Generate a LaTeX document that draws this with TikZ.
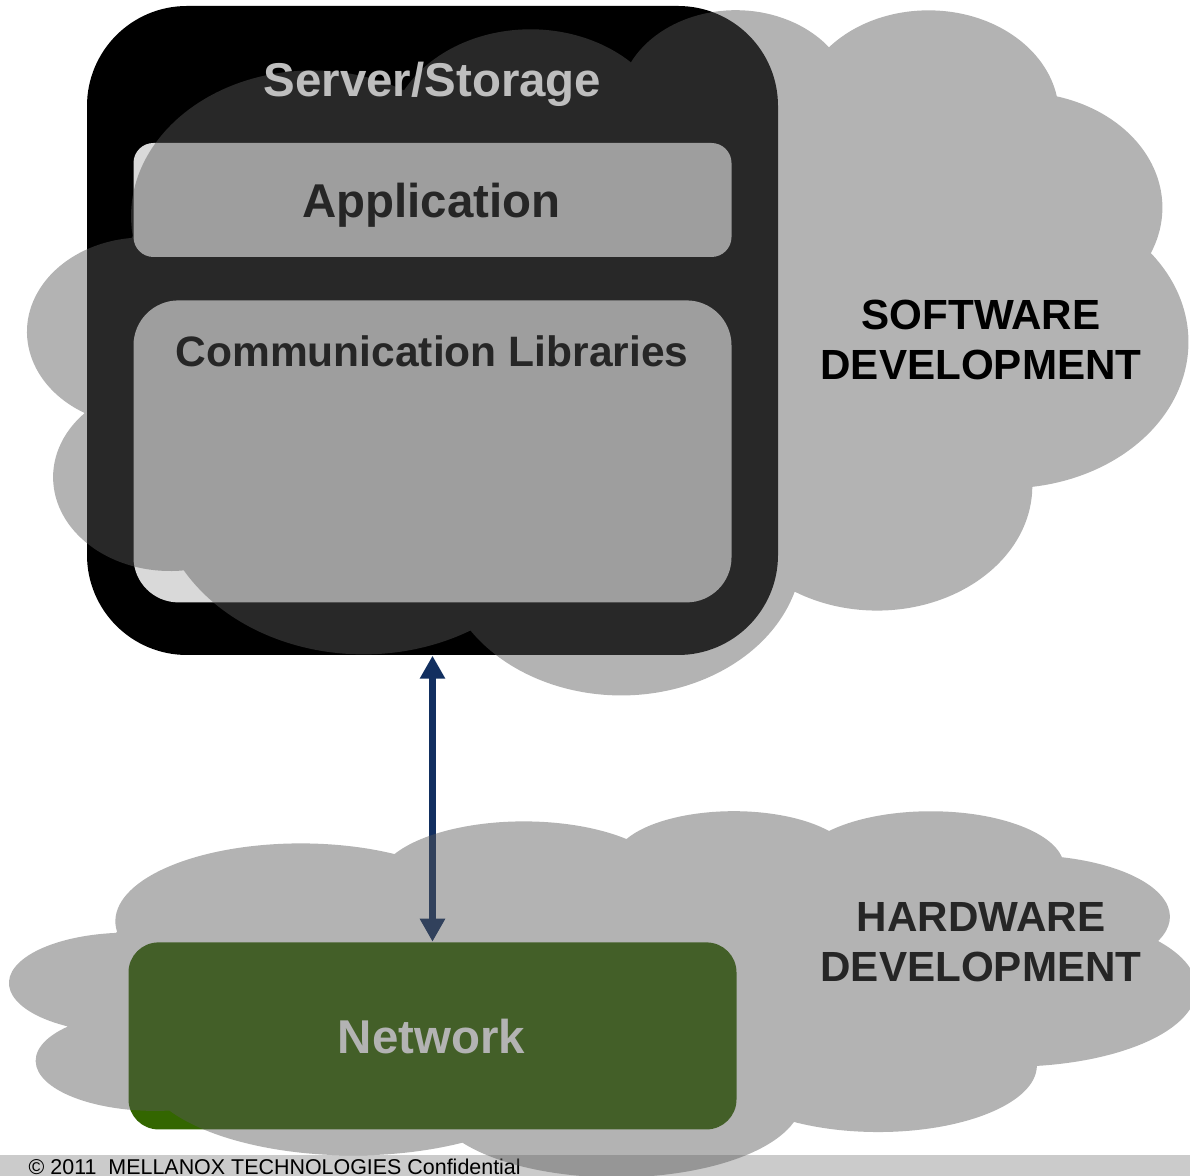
\documentclass[tikz,border=0pt]{standalone}
\usepackage{fontspec}
\setmainfont{Liberation Sans}
\usepackage{tikz}
\usetikzlibrary{arrows.meta, positioning}

\definecolor{cloudgray}{RGB}{88,88,88}
\definecolor{appgray}{RGB}{217,217,217}
\definecolor{netgreen}{RGB}{51,102,0}
\definecolor{linknavy}{RGB}{18,47,96}
\definecolor{footgray}{RGB}{203,203,203}
\definecolor{titlegray}{RGB}{190,190,190}
\definecolor{labeldark}{RGB}{38,38,38}
\definecolor{netlabel}{RGB}{179,179,179}

\tikzset{
    serverbox/.style={
        rectangle,
        fill=black,
        rounded corners=1cm,
        minimum width=6.91cm,
        minimum height=6.49cm,
        inner sep=0pt
    },
    layerbox/.style={
        rectangle,
        fill=appgray,
        minimum width=5.98cm,
        inner sep=0pt
    },
    netbox/.style={
        rectangle,
        fill=netgreen,
        rounded corners=0.3cm,
        minimum width=6.08cm,
        minimum height=1.87cm,
        inner sep=0pt
    },
    footbar/.style={
        rectangle,
        fill=footgray,
        minimum width=11.9cm,
        minimum height=0.21cm,
        inner sep=0pt
    },
    link/.style={
        draw=linknavy,
        line width=0.07cm,
        {Triangle[width=0.24cm,length=0.23cm]}-{Triangle[width=0.24cm,length=0.23cm]}
    },
    cloudfill/.style={
        fill=cloudgray,
        fill opacity=0.455
    },
    boxtitle/.style={
        font=\fontsize{13.5}{16}\selectfont\bfseries,
        anchor=base,
        inner sep=0pt
    },
    zonelabel/.style={
        font=\fontsize{12}{14.2}\selectfont\bfseries,
        align=center,
        inner sep=0pt
    },
    pics/pptcloud/.style={
        code={
            \path[cloudfill] (9.028,33.264)
                arc[x radius=15.632, y radius=21.273, start angle=-187.75, end angle=-59.64]
                arc[x radius=12.345, y radius=16.822, start angle=-152.02, end angle=-45.47]
                arc[x radius=10.104, y radius=13.762, start angle=-153.49, end angle=-37.32]
                arc[x radius=11.243, y radius=15.266, start angle=-139.72, end angle=-10.21]
                arc[x radius=12.345, y radius=16.836, start angle=-74.77, end angle=23.21]
                arc[x radius=15.683, y radius=21.343, start angle=-37.52, end angle=81.86]
                arc[x radius=13.391, y radius=18.211, start angle=0.46, end angle=121.98]
                arc[x radius=15.630, y radius=21.331, start angle=16.85, end angle=146.25]
                arc[x radius=17.870, y radius=24.405, start angle=58.98, end angle=150.17]
                arc[x radius=10.093, y radius=13.699, start angle=-276.70, end angle=-136.89]
                arc[x radius=10.058, y radius=13.762, start angle=-239.64, end angle=-95.89]
                -- cycle;
        }
    }
}

\begin{document}
\begin{tikzpicture}

\useasboundingbox (0,0) rectangle (11.9,-11.76);
\clip (0,0) rectangle (11.9,-11.76);

% Footer
\node[footbar] (foot_bar) at (5.95,-11.655) {};
\node[anchor=base west, inner sep=0pt, font=\fontsize{6.1}{7.3}\selectfont] (foot_text) at (0.28,-11.745) {© 2011\ \ MELLANOX TECHNOLOGIES Confidential};

% Server/Storage stack
\node[serverbox] (server_box) at (4.325,-3.305) {};
\node[layerbox, minimum height=1.14cm, rounded corners=0.2cm, below=1.37cm of server_box.north] (app_box) {};
\node[layerbox, minimum height=3.02cm, rounded corners=0.45cm, below=0.42cm of app_box] (comm_box) {};

% Network
\node[netbox, below=2.86cm of server_box] (net_box) {};

% Link
\draw[link] (server_box.south) -- (net_box.north);

% Clouds
\pic[xscale=0.116, yscale=-0.0685] (sw_cloud) at (0.28,-0.08) {pptcloud};
\pic[xscale=0.1186, yscale=-0.0366] (hw_cloud) at (0.10,-8.10) {pptcloud};

% Labels
\node[boxtitle, text=titlegray] (server_title) at (4.325,-0.97) {Server/Storage};
\node[boxtitle, text=labeldark] (app_label) at (4.315,-2.18) {Application};
\node[boxtitle, text=labeldark, font=\fontsize{12.1}{14}\selectfont\bfseries] (comm_label) at (4.32,-3.67) {Communication Libraries};
\node[boxtitle, text=netlabel] (net_label) at (4.315,-10.53) {Network};
\node[zonelabel, text=black] (sw_label) at (9.81,-3.40) {SOFTWARE\\DEVELOPMENT};
\node[zonelabel, text=labeldark] (hw_label) at (9.81,-9.42) {HARDWARE\\DEVELOPMENT};

\end{tikzpicture}
\end{document}
